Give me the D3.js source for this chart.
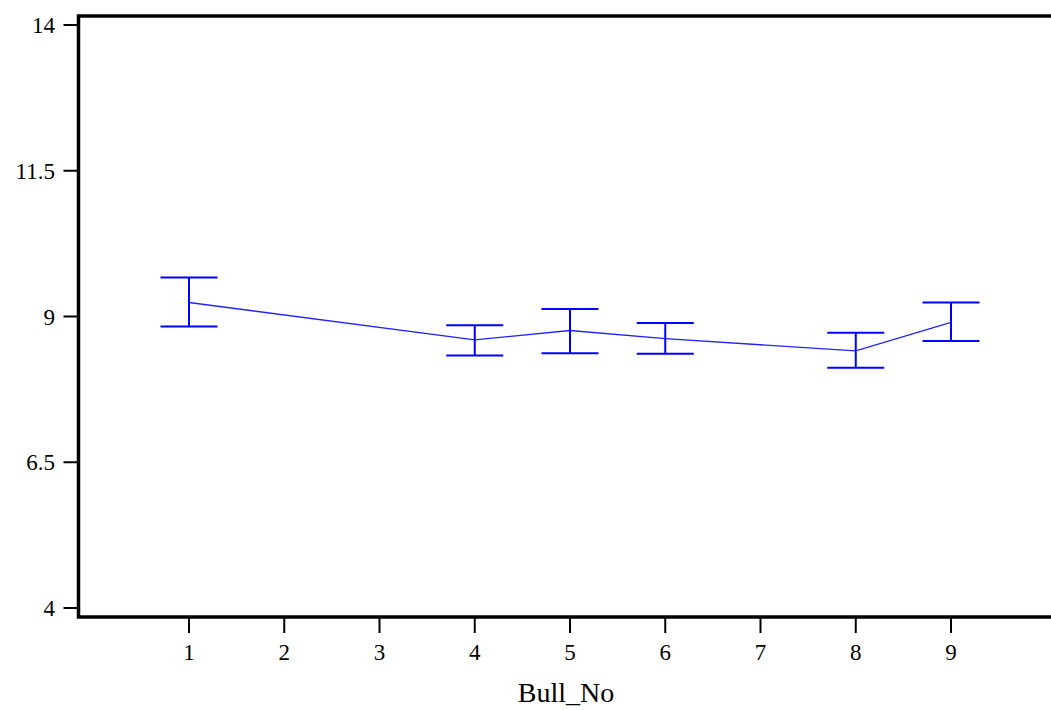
<!DOCTYPE html>
<html>
<head>
<meta charset="utf-8">
<script src="https://d3js.org/d3.v7.min.js"></script>
<style>
  body { margin: 0; background: #fff; }
  svg text { font-family: "Liberation Serif", "Times New Roman", serif; fill: #000; }
</style>
</head>
<body>
<div id="chart"></div>
<script>
// bull numbers and their mean with upper / lower error limits
var bulls = [1, 4, 5, 6, 8, 9];
var means = [9.24, 8.60, 8.76, 8.62, 8.41, 8.90];
var upper = [9.67, 8.85, 9.13, 8.89, 8.72, 9.24];
var lower = [8.83, 8.33, 8.37, 8.36, 8.12, 8.58];
var xTicks = [1, 2, 3, 4, 5, 6, 7, 8, 9];
var yTicks = [4, 6.5, 9, 11.5, 14];

var width = 1051, height = 710;

var svg = d3.select("#chart").append("svg")
  .attr("width", width)
  .attr("height", height);

var x = d3.scaleLinear().domain([1, 9]).range([189, 951]);
var y = d3.scaleLinear().domain([4, 14]).range([608, 25]);

var frameL = 78.5, frameT = 16, frameB = 617, frameR = 1060;

// y axis ticks + labels
var yAxis = svg.append("g");
yAxis.selectAll("line").data(yTicks).enter().append("line")
  .attr("x1", frameL - 15).attr("x2", frameL)
  .attr("y1", function(d){ return y(d); })
  .attr("y2", function(d){ return y(d); })
  .attr("stroke", "#000").attr("stroke-width", 2);
yAxis.selectAll("text").data(yTicks).enter().append("text")
  .attr("x", 55)
  .attr("y", function(d){ return y(d) + 8; })
  .attr("text-anchor", "end")
  .attr("font-size", 23)
  .text(function(d){ return d; });

// x axis ticks + labels
var xAxis = svg.append("g");
xAxis.selectAll("line").data(xTicks).enter().append("line")
  .attr("x1", function(d){ return x(d); })
  .attr("x2", function(d){ return x(d); })
  .attr("y1", frameB).attr("y2", frameB + 16)
  .attr("stroke", "#000").attr("stroke-width", 2);
xAxis.selectAll("text").data(xTicks).enter().append("text")
  .attr("x", function(d){ return x(d); })
  .attr("y", 660)
  .attr("text-anchor", "middle")
  .attr("font-size", 23)
  .text(function(d){ return d; });

svg.append("text")
  .attr("x", 566).attr("y", 702)
  .attr("text-anchor", "middle")
  .attr("font-size", 28)
  .text("Bull_No");

// frame
svg.append("path")
  .attr("d", "M" + frameR + "," + frameT + "H" + frameL + "V" + frameB + "H" + frameR)
  .attr("fill", "none").attr("stroke", "#000").attr("stroke-width", 3.5);

// mean line
var pts = bulls.map(function(b, i){ return [b, means[i]]; });
svg.append("path")
  .datum(pts)
  .attr("d", d3.line().x(function(d){ return x(d[0]); }).y(function(d){ return y(d[1]); }))
  .attr("fill", "none").attr("stroke", "#2222ff").attr("stroke-width", 1.3);

// error bars
var cap = 28.5;
var eb = svg.append("g").attr("stroke", "#0000ff").attr("stroke-width", 2);
bulls.forEach(function(b, i){
  var cx = x(b);
  eb.append("line").attr("x1", cx).attr("x2", cx).attr("y1", y(upper[i])).attr("y2", y(lower[i]));
  eb.append("line").attr("x1", cx - cap).attr("x2", cx + cap).attr("y1", y(upper[i])).attr("y2", y(upper[i]));
  eb.append("line").attr("x1", cx - cap).attr("x2", cx + cap).attr("y1", y(lower[i])).attr("y2", y(lower[i]));
});
</script>
</body>
</html>
